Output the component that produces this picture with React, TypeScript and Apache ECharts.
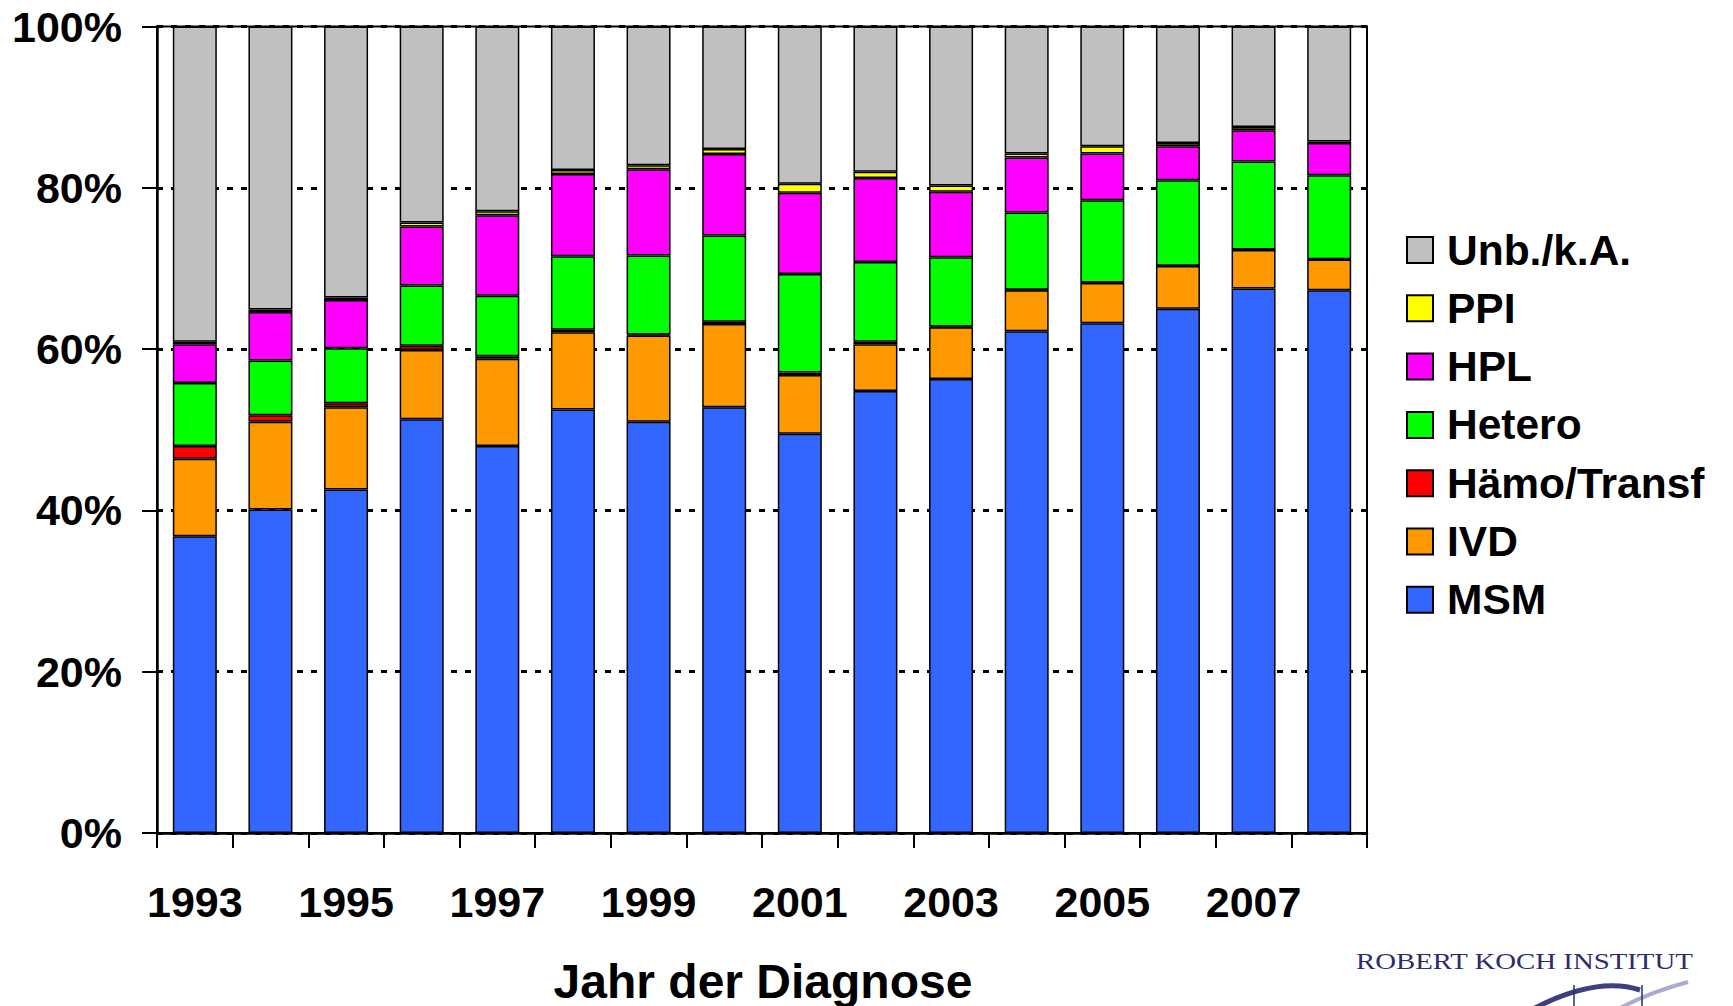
import React, { useEffect, useRef } from "react";
import * as echarts from "echarts";

const years = ["1993","1994","1995","1996","1997","1998","1999","2000","2001","2002","2003","2004","2005","2006","2007","2008"];
const msm = [36.8, 40.1, 42.6, 51.3, 48.0, 52.5, 51.0, 52.8, 49.5, 54.8, 56.3, 62.2, 63.2, 65.0, 67.5, 67.3];
const ivd = [9.6, 10.9, 10.2, 8.6, 10.8, 9.6, 10.7, 10.3, 7.3, 5.8, 6.4, 5.1, 5.0, 5.3, 4.8, 3.8];
const haemo = [1.6, 0.8, 0.5, 0.5, 0.3, 0.3, 0.1, 0.3, 0.3, 0.3, 0.1, 0.05, 0.05, 0.05, 0.05, 0.05];
const hetero = [7.8, 6.8, 6.8, 7.5, 7.5, 9.1, 9.8, 10.7, 12.2, 9.9, 8.6, 9.6, 10.2, 10.6, 10.9, 10.4];
const hpl = [4.8, 6.0, 6.0, 7.3, 10.0, 10.2, 10.7, 10.1, 10.1, 10.4, 8.1, 6.8, 5.8, 4.2, 3.9, 4.0];
const ppi = [0.3, 0.3, 0.3, 0.5, 0.5, 0.5, 0.5, 0.6, 1.1, 0.8, 0.8, 0.5, 0.9, 0.4, 0.4, 0.2];
const unb = [39.1, 35.1, 33.6, 24.3, 22.9, 17.8, 17.2, 15.2, 19.5, 18.0, 19.7, 15.75, 14.85, 14.45, 12.45, 14.25];

const seriesDefs = [
  { name: "MSM", data: msm, color: "#3366FF" },
  { name: "IVD", data: ivd, color: "#FF9900" },
  { name: "Hämo/Transf", data: haemo, color: "#FF0000" },
  { name: "Hetero", data: hetero, color: "#00FF00" },
  { name: "HPL", data: hpl, color: "#FF00FF" },
  { name: "PPI", data: ppi, color: "#FFFF00" },
  { name: "Unb./k.A.", data: unb, color: "#C0C0C0" },
];
const legendOrder = ["Unb./k.A.", "PPI", "HPL", "Hetero", "Hämo/Transf", "IVD", "MSM"];

const FONT = "'Liberation Sans', Arial, sans-serif";

export default function App() {
  const ref = useRef<HTMLDivElement>(null);
  useEffect(() => {
    if (!ref.current) return;
    const chart = echarts.init(ref.current, undefined, { renderer: "svg" });
    chart.setOption({
      animation: false,
      backgroundColor: "#ffffff",
      grid: {
        left: 157, right: 366, top: 26.5, bottom: 173,
        show: true, borderColor: "#000", borderWidth: 2, backgroundColor: "transparent",
      },
      legend: {
        orient: "vertical",
        left: 1401,
        top: 223,
        itemWidth: 26,
        itemHeight: 26,
        itemGap: 14.3,
        icon: "rect",
        data: legendOrder,
        itemStyle: { borderColor: "#000", borderWidth: 2 },
        textStyle: { fontFamily: FONT, fontWeight: "bold", fontSize: 42.5, color: "#000", lineHeight: 44, padding: [0, 0, 0, 9] },
      },
      xAxis: {
        type: "category",
        data: years,
        axisLine: { lineStyle: { color: "#000", width: 2.5 } },
        axisTick: { show: true, interval: 0, alignWithLabel: false, length: 15, lineStyle: { color: "#000", width: 2 } },
        axisLabel: { interval: 1, margin: 47, fontFamily: FONT, fontWeight: "bold", fontSize: 43, color: "#000" },
        splitLine: { show: false },
      },
      yAxis: {
        type: "value",
        min: 0,
        max: 100,
        interval: 20,
        axisLine: { show: true, lineStyle: { color: "#000", width: 2.5 } },
        axisTick: { show: true, length: 15, lineStyle: { color: "#000", width: 2 } },
        axisLabel: { formatter: "{value}%", margin: 35, fontFamily: FONT, fontWeight: "bold", fontSize: 43, color: "#000" },
        splitLine: { show: true, lineStyle: { color: "#000", width: 3, type: [6, 8] } },
      },
      series: seriesDefs.map((s) => ({
        name: s.name,
        type: "bar",
        stack: "total",
        barWidth: 44,
        data: s.data,
        itemStyle: { color: s.color, borderColor: "#000", borderWidth: 1.5 },
      })),
      graphic: [
        {
          type: "text",
          x: 763, y: 981,
          style: { text: "Jahr der Diagnose", font: `bold 48px ${FONT}`, fill: "#000", textAlign: "center", textVerticalAlign: "middle" },
        },
        {
          type: "text",
          x: 1356, y: 961, scaleX: 1.2,
          style: { text: "ROBERT KOCH INSTITUT", font: "24px 'Liberation Serif', 'DejaVu Serif', serif", fill: "#2b2d6e", textAlign: "left", textVerticalAlign: "middle" },
        },
        {
          type: "bezierCurve",
          shape: { x1: 1535, y1: 1008, x2: 1640, y2: 990, cpx1: 1580, cpy1: 985, cpx2: 1615, cpy2: 982 },
          style: { stroke: "#3d3f80", lineWidth: 5, fill: "none" },
        },
        {
          type: "bezierCurve",
          shape: { x1: 1620, y1: 1008, x2: 1688, y2: 982, cpx1: 1645, cpy1: 995, cpx2: 1665, cpy2: 988 },
          style: { stroke: "#a9abd0", lineWidth: 4, fill: "none" },
        },
        { type: "line", shape: { x1: 1574, y1: 985, x2: 1574, y2: 1006 }, style: { stroke: "#2b2d6e", lineWidth: 1.5 } },
        { type: "line", shape: { x1: 1642, y1: 985, x2: 1642, y2: 1006 }, style: { stroke: "#2b2d6e", lineWidth: 1.5 } },
      ],
    });
    return () => chart.dispose();
  }, []);
  return <div ref={ref} style={{ position: "fixed", left: 0, top: 0, width: 1733, height: 1006 }} />;
}
